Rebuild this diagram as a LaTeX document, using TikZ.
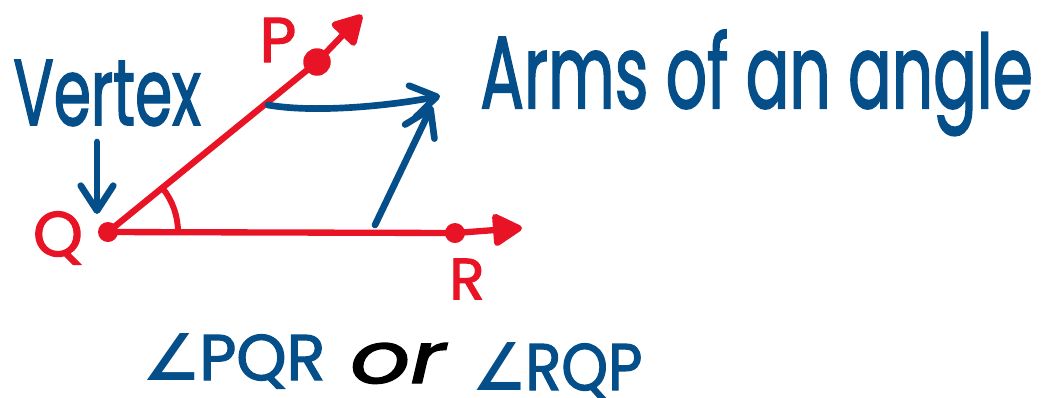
\documentclass[tikz,border=0pt]{standalone}
\usepackage{fontspec}
\setmainfont{Poppins}
\newfontfamily\handfont{Poppins}[FakeBold=2]
\newfontfamily\symfont{DejaVu Sans}
\usepackage{graphicx}
\usetikzlibrary{arrows.meta}
\definecolor{inkred}{RGB}{232,20,38}
\definecolor{inkblue}{RGB}{4,78,138}
\newcommand{\angsign}{{\symfont\bfseries ∠}}
\begin{document}
\begin{tikzpicture}[x=0.02cm,y=-0.02cm,
    arm/.style={draw=inkred,line width=3.6pt,line cap=round,line join=round,-{Triangle[length=6.5mm,width=7mm,round]}},
    dot/.style={circle,fill=inkred,inner sep=0pt,minimum size=4mm},
    ptname/.style={text=inkred,font=\fontsize{36}{36}\selectfont\handfont,inner sep=0pt},
    pointer/.style={draw=inkblue,line width=3.8pt,line cap=round,line join=round,-{Straight Barb[length=5mm,width=6.5mm,round]}},
    handtext/.style={text=inkblue,font=\handfont,inner sep=0pt,anchor=base west}]
    \fill[white] (0,0) rectangle (1047,397);
    \useasboundingbox (0,0) rectangle (1047,397);
    % the angle
    \node[dot] (Q) at (108,232) {};
    \node[dot,minimum size=5.5mm] (P) at (317,62) {};
    \node[dot] (R) at (455,233) {};
    \coordinate (Ptip) at (362,15);
    \coordinate (Rtip) at (522,228);
    \draw[arm] (Q.center) -- (P.center) -- (Ptip);
    \draw[arm] (Q.center) -- (R.center) -- (Rtip);
    \draw[draw=inkred,line width=3.4pt,line cap=round] (Q.center) ++(-38:70) arc[start angle=-38,end angle=0,radius=70];
    \node[ptname] (Pname) at (278,40) {P};
    \node[ptname] (Qname) at (58,238) {Q};
    \node[ptname,font=\fontsize{33}{33}\selectfont\handfont] (Rname) at (467,279) {R};
    % notes
    \node[handtext] (vertex) at (13,125) {\resizebox{3.75cm}{1.3cm}{Vertex}};
    \coordinate (vtop) at (97,142);
    \coordinate (vtip) at (97,214);
    \draw[pointer] (vtop) -- (vtip);
    \node[handtext] (arms) at (480,108) {\resizebox{11.05cm}{1.56cm}{Arms of an angle}};
    \coordinate (armP) at (268,105);
    \coordinate (armR) at (375,225);
    \coordinate (tipP) at (440,96);
    \coordinate (tipR) at (432,106);
    \draw[pointer] (armP) .. controls (320,114) and (400,104) .. (tipP);
    \draw[pointer] (armR) -- (tipR);
    % names of the angle
    \node[handtext] (pqr) at (142,380) {\resizebox{3.66cm}{0.94cm}{\angsign PQR}};
    \node[handtext,text=black] (or) at (350,383) {\resizebox{1.9cm}{0.8cm}{\itshape or}};
    \node[handtext] (rqp) at (472,390) {\resizebox{3.4cm}{0.96cm}{\angsign RQP}};
\end{tikzpicture}
\end{document}
